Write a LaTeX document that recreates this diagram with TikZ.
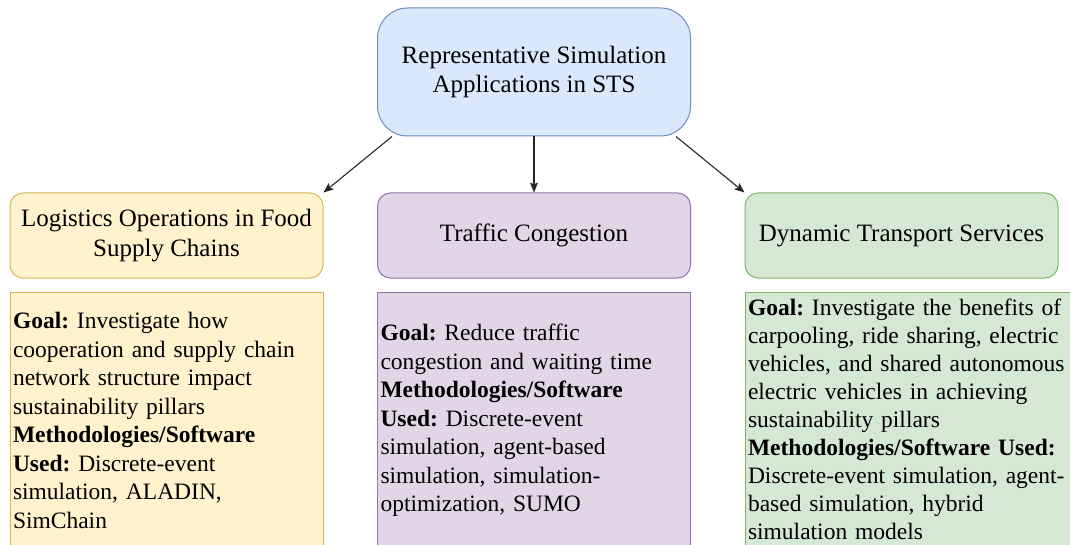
\documentclass[tikz,border=0pt]{standalone}
\usepackage{fontspec}
\setmainfont{Liberation Serif}
\usetikzlibrary{arrows.meta}
\frenchspacing
\definecolor{bfill}{HTML}{DAE8FC}\definecolor{bline}{HTML}{6C8EBF}
\definecolor{yfill}{HTML}{FFF2CC}\definecolor{yline}{HTML}{D6B656}
\definecolor{pfill}{HTML}{E1D5E7}\definecolor{pline}{HTML}{9673A6}
\definecolor{gfill}{HTML}{D5E8D4}\definecolor{gline}{HTML}{82B366}
\begin{document}
\begin{tikzpicture}[x=1pt,y=-1pt,
  txt/.style={font=\fontsize{25}{29.5}\selectfont},
  topbox/.style={txt, draw=bline, fill=bfill, line width=1pt, rounded corners=30pt,
    minimum width=313pt, minimum height=128pt, align=center},
  hdr/.style={txt, line width=1pt, rounded corners=13pt, minimum width=313pt,
    minimum height=85pt, align=center},
  body/.style={font=\fontsize{23.5}{28.5}\selectfont\frenchspacing, line width=1pt, anchor=north,
    align=left, inner sep=3pt},
  conn/.style={-{Stealth[length=10pt,width=8pt,inset=2pt]}, line width=1.1pt, draw=black!85}]
\clip (0,0) rectangle (1070,545);
\node[topbox] (top) at (534,72) {Representative Simulation\\Applications in STS};
\node[hdr, fill=yfill, draw=yline] (h1) at (166.5,235.5) {Logistics Operations in Food\\Supply Chains};
\node[hdr, fill=pfill, draw=pline] (h2) at (534,235.5) {Traffic Congestion};
\node[hdr, fill=gfill, draw=gline] (h3) at (901.5,235.5) {Dynamic Transport Services};
\node[body, fill=yfill, draw=yline, minimum width=313pt, text width=307pt, minimum height=256pt] (b1) at (166.5,292)
  {\textbf{Goal:} Investigate how\\cooperation and supply chain\\network structure impact\\sustainability pillars\\\textbf{Methodologies/Software}\\\textbf{Used:} Discrete-event\\simulation, ALADIN,\\SimChain};
\node[body, fill=pfill, draw=pline, minimum width=313pt, text width=307pt, minimum height=256pt] (b2) at (534,292)
  {\textbf{Goal:} Reduce traffic\\congestion and waiting time\\\textbf{Methodologies/Software}\\\textbf{Used:} Discrete-event\\simulation, agent-based\\simulation, simulation-\\optimization, SUMO};
\node[body, font=\fontsize{23.5}{28}\selectfont\frenchspacing, fill=gfill, draw=gline, minimum width=340pt, text width=334pt, minimum height=254pt] (b3) at (915,292)
  {\textbf{Goal:} Investigate the benefits of\\carpooling, ride sharing, electric\\vehicles, and shared autonomous\\electric vehicles in achieving\\sustainability pillars\\\textbf{Methodologies/Software Used:}\\Discrete-event simulation, agent-\\based simulation, hybrid\\simulation models};
\draw[conn] ([xshift=15pt]top.south west) -- (h1.north east);
\draw[conn] (top.south) -- (h2.north);
\draw[conn] ([xshift=-15pt]top.south east) -- (h3.north west);
\end{tikzpicture}
\end{document}
